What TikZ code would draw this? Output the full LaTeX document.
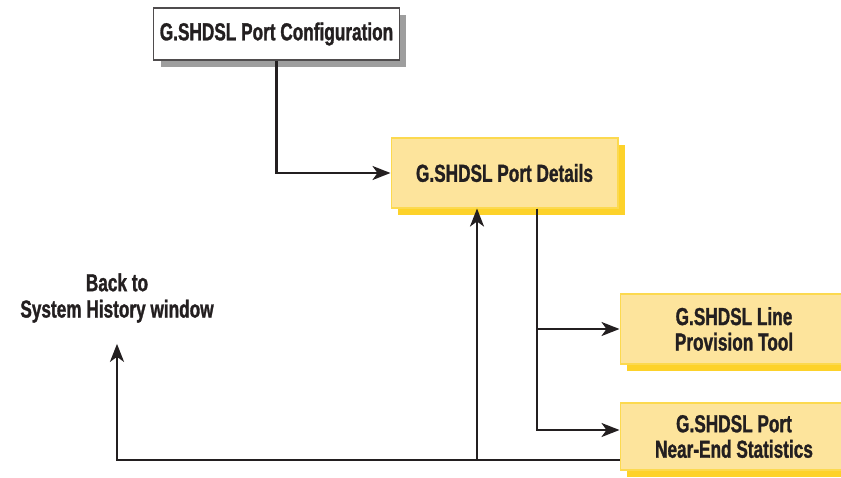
\documentclass[tikz,border=0pt]{standalone}
\usepackage{fontspec}
\setmainfont{Liberation Sans}[FakeStretch=0.7, BoldFeatures={FakeBold=1.2}]
\usetikzlibrary{arrows.meta,shadows,calc}
\definecolor{paneyellow}{HTML}{FDE49C}
\definecolor{paneborder}{HTML}{FCD94F}
\definecolor{paneshadow}{HTML}{FDD22A}
\definecolor{greyshadow}{HTML}{9E9E9E}
\definecolor{inkblack}{HTML}{231F20}
\tikzset{
  window/.style={draw=paneborder, fill=paneyellow, line width=0.6pt, align=center,
    font=\bfseries\fontsize{14}{14.5}\selectfont, text=inkblack,
    drop shadow={shadow xshift=0.14cm, shadow yshift=-0.14cm, fill=paneshadow, opacity=1}},
  startwin/.style={window, draw=inkblack!80, fill=white,
    drop shadow={shadow xshift=0.14cm, shadow yshift=-0.14cm, fill=greyshadow, opacity=1}},
  link/.style={draw=inkblack, line width=1.4pt,
    -{Stealth[length=0.36cm, width=0.28cm, inset=0.1cm]}},
}
\begin{document}
\begin{tikzpicture}[x=0.02cm, y=-0.02cm]
    \useasboundingbox (0,0) rectangle (841,477);
    % windows
    \node[startwin, minimum width=4.86cm, minimum height=1.04cm] (cfg) at (276.5,34) {G.SHDSL Port Configuration};
    \node[window, minimum width=4.54cm, minimum height=1.4cm] (det) at (504.5,173) {G.SHDSL Port Details};
    \node[window, minimum width=4.56cm, minimum height=1.4cm] (prov) at (734,329) {G.SHDSL Line\\Provision Tool};
    \node[window, minimum width=4.56cm, minimum height=1.34cm] (near) at (734,436.5) {G.SHDSL Port\\Near-End Statistics};
    \node[align=center, font=\bfseries\fontsize{14}{15}\selectfont, text=inkblack] (back) at (117,298) {Back to\\System History window};
    % connectors
    \draw[link] (cfg.south) |- (det.west);
    \coordinate (split) at ($(det.south)+(32.5,0)$);
    \draw[link] (split) |- (prov.west);
    \draw[link] (split) |- ($(near.west)+(0,-6.5)$);
    \coordinate (ret) at ($(near.west)+(0,23.5)$);
    \draw[link, shorten >=0.3cm] (ret) -| (back.south);
    \coordinate (jn) at (477,460);
    \draw[link] (jn) -- (jn |- det.south);
\end{tikzpicture}
\end{document}
